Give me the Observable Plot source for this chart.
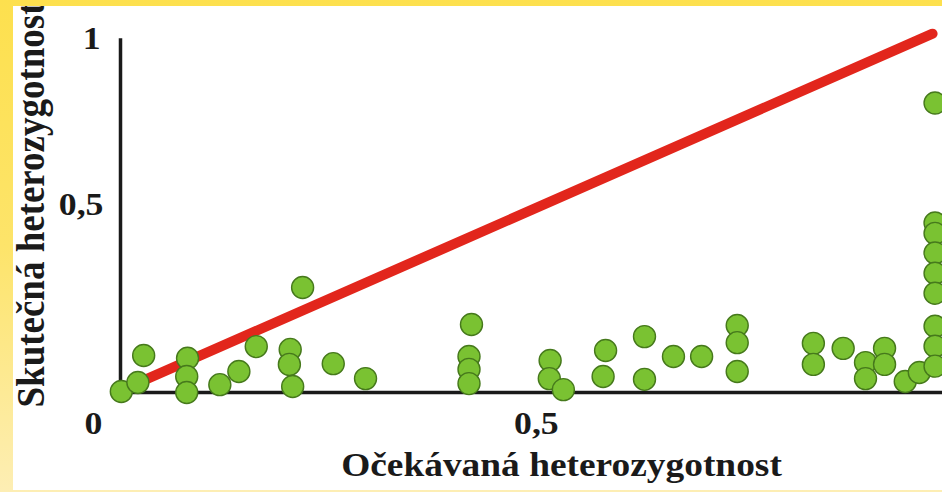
<!DOCTYPE html>
<html>
<head>
<meta charset="utf-8">
<script src="https://cdn.jsdelivr.net/npm/d3@7"></script>
<script src="https://cdn.jsdelivr.net/npm/@observablehq/plot@0.6"></script>
<style>
  html, body { margin: 0; padding: 0; }
  body {
    width: 942px; height: 492px; overflow: hidden;
    background: linear-gradient(to bottom, #fde04e 0%, #fde46a 50%, #fdeeb4 100%);
  }
  #chart { position: absolute; left: 13px; top: 6px; }
</style>
</head>
<body>
<div id="chart"></div>
<script>
// Expected heterozygosity (x) and observed heterozygosity (y) per locus
const expected = [
  0.001, 0.021, 0.028, 0.081, 0.080, 0.080, 0.120, 0.143, 0.164, 0.220,
  0.205, 0.204, 0.208, 0.257, 0.296, 0.424, 0.421, 0.421, 0.421, 0.519,
  0.518, 0.535, 0.586, 0.583, 0.633, 0.633, 0.668, 0.702, 0.745, 0.745,
  0.745, 0.837, 0.837, 0.873, 0.900, 0.900, 0.923, 0.923, 0.948, 0.965,
  0.984, 0.984, 0.984, 0.984, 0.984, 0.984, 0.984, 0.984, 0.984
];
const observed = [
  0.003, 0.028, 0.104, 0.096, 0.045, 0.000, 0.022, 0.059, 0.129, 0.295,
  0.121, 0.079, 0.017, 0.081, 0.039, 0.191, 0.101, 0.065, 0.025, 0.090,
  0.039, 0.008, 0.118, 0.045, 0.157, 0.037, 0.101, 0.101, 0.188, 0.140,
  0.059, 0.138, 0.079, 0.124, 0.084, 0.039, 0.124, 0.079, 0.031, 0.056,
  0.813, 0.476, 0.447, 0.392, 0.335, 0.279, 0.186, 0.130, 0.074
];
// Reference line (observed = expected)
const refX = [0.028, 0.981];
const refY = [0.034, 1.008];
// Tick labels
const xTickValues = [0, 0.5, 1];
const xTickLabels = ["0", "0,5", "1"];
const yTickValues = [0.5, 1];
const yTickLabels = ["0,5", "1"];
const xTitle = "Očekávaná heterozygotnost";
const yTitle = "Skutečná heterozygotnost";

const points = expected.map((e, i) => ({e, o: observed[i]}));
const refLine = refX.map((x, i) => ({x, y: refY[i]}));
const xTicks = xTickValues.map((v, i) => ({v, t: xTickLabels[i]}));
const yTicks = yTickValues.map((v, i) => ({v, t: yTickLabels[i]}));

const ink = "#1a1a1a";
const font = "'Liberation Serif', 'Times New Roman', serif";

const chart = Plot.plot({
  width: 929,
  height: 484,
  marginLeft: 107,
  marginRight: 0,
  marginTop: 30,
  marginBottom: 98,
  x: {domain: [0, 0.993], axis: null},
  y: {domain: [0, 1], axis: null},
  style: {background: "white", fontFamily: font, overflow: "hidden"},
  marks: [
    Plot.ruleX([0], {y1: 0, y2: 0.994, stroke: ink, strokeWidth: 3.5}),
    Plot.ruleY([0], {x1: 0, x2: 0.993, stroke: ink, strokeWidth: 3.5}),
    Plot.line(refLine, {x: "x", y: "y", stroke: "#e2261c", strokeWidth: 10}),
    Plot.dot(points, {x: "e", y: "o", r: 11, fill: "#7ac232", stroke: "#46791c", strokeWidth: 1.4}),
    // y tick labels
    Plot.text(yTicks.filter(d => d.v === 1), {x: 0, y: "v", text: "t", textAnchor: "end", lineAnchor: "middle", dx: -20, dy: 2, fontSize: 32.5, fontWeight: "bold", fill: ink}),
    Plot.text(yTicks.filter(d => d.v === 0.5), {x: 0, y: "v", text: "t", textAnchor: "end", lineAnchor: "middle", dx: -17, dy: -10, fontSize: 32.5, fontWeight: "bold", fill: ink}),
    // x tick labels
    Plot.text(xTicks.filter(d => d.v === 0), {x: "v", y: 0, text: "t", textAnchor: "middle", lineAnchor: "middle", dx: -27, dy: 31, fontSize: 32.5, fontWeight: "bold", fill: ink}),
    Plot.text(xTicks.filter(d => d.v !== 0), {x: "v", y: 0, text: "t", textAnchor: "middle", lineAnchor: "middle", dx: 2, dy: 31, fontSize: 32.5, fontWeight: "bold", fill: ink}),
    // axis titles
    Plot.text([xTitle], {frameAnchor: "bottom", text: d => d, textAnchor: "middle", lineAnchor: "bottom", dx: 30, dy: 83, fontSize: 34, fontWeight: "bold", fill: ink}),
    Plot.text([yTitle], {frameAnchor: "bottom-left", text: d => d, rotate: -90, textAnchor: "start", lineAnchor: "bottom", dx: -77, dy: 15, fontSize: 37, fontWeight: "bold", fill: ink})
  ]
});
// The reference typography is horizontally stretched (~1.1x)
chart.querySelectorAll("text").forEach(t => {
  const tr = t.getAttribute("transform") || "";
  if (t.textContent === yTitle) t.setAttribute("transform", tr + " scale(1,1.1)");
  else t.setAttribute("transform", tr + " scale(1.1,1)");
});
document.getElementById("chart").appendChild(chart);
</script>
</body>
</html>
